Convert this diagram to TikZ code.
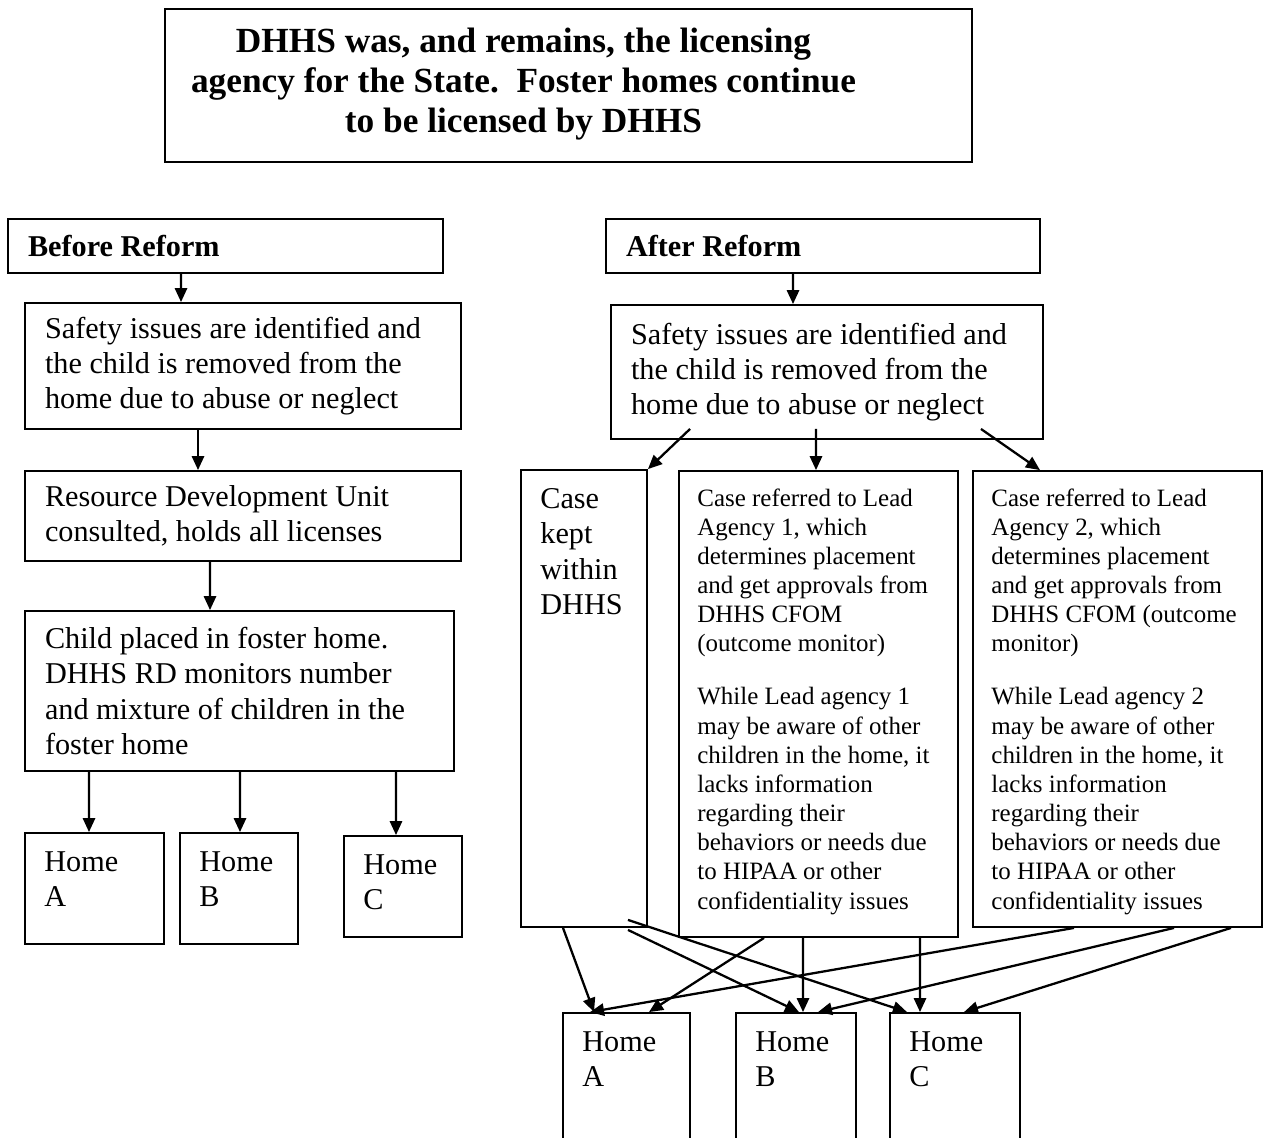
\documentclass[tikz,border=0pt]{standalone}
\usepackage{fontspec}
\setmainfont{Liberation Serif}
\usetikzlibrary{arrows.meta}

\begin{document}
\begin{tikzpicture}[x=0.02cm, y=-0.02cm,
    box/.style={draw, line width=1.1pt, inner sep=0pt},
    txtbox/.style={box, align=flush left, inner xsep=0.4cm, inner ysep=0pt},
    bodytxt/.style={font=\fontsize{17.2}{20.1}\selectfont},
    boldtxt/.style={font=\fontsize{17.2}{20.1}\selectfont\bfseries},
    leadtxt/.style={font=\fontsize{14.2}{16.6}\selectfont},
    arr/.style={-{Triangle[length=8pt, width=7pt]}, line width=1.3pt}]

      \useasboundingbox (0,0) rectangle (1264,1137);
      \clip (0,0) rectangle (1264,1137);

      % Title box
      \node[box, minimum width=16.14cm, minimum height=3.06cm] (title) at (568.5,85.5) {};
      \node[font=\fontsize{20.1}{22.7}\selectfont\bfseries, align=center] (titletxt) at (523.5,84)
      {DHHS was, and remains, the licensing\\agency for the State.\ \ Foster homes continue\\to be licensed by DHHS};

      % Before reform column
      \node[txtbox, boldtxt, text width=7.90cm, minimum height=1.08cm] (before) at (225.5,246) {Before Reform};
      \node[txtbox, bodytxt, text width=7.92cm, minimum height=2.52cm] (safeL) at (243,366)
      {Safety issues are identified and\\the child is removed from the\\home due to abuse or neglect};
      \node[txtbox, bodytxt, text width=7.92cm, minimum height=1.80cm] (rdu) at (243,516)
      {Resource Development Unit\\consulted, holds all licenses};
      \node[txtbox, bodytxt, text width=7.78cm, minimum height=3.20cm] (child) at (239.5,691)
      {Child placed in foster home.\\DHHS RD monitors number\\and mixture of children in the\\foster home};

      % After reform column
      \node[txtbox, boldtxt, text width=7.88cm, minimum height=1.08cm] (after) at (823,246) {After Reform};
      \node[txtbox, bodytxt, text width=7.84cm, minimum height=2.68cm] (safeR) at (827,372)
      {Safety issues are identified and\\the child is removed from the\\home due to abuse or neglect};

      \node[box, minimum width=2.52cm, minimum height=9.14cm] (caseBox) at (584,698.5) {};
      \node[bodytxt, anchor=north west, align=left, inner sep=0pt] (casetxt)
      at ([xshift=0.4cm, yshift=-0.38cm]caseBox.north west) {Case\\kept\\within\\DHHS};

      \node[box, minimum width=5.58cm, minimum height=9.32cm] (lead1) at (818.5,704) {};
      \node[leadtxt, anchor=north west, align=left, inner sep=0pt] (lead1txt)
      at ([xshift=0.38cm, yshift=-0.36cm]lead1.north west)
      {Case referred to Lead\\Agency 1, which\\determines placement\\and get approvals from\\DHHS CFOM\\(outcome monitor)\\[13.6pt]
      While Lead agency 1\\may be aware of other\\children in the home, it\\lacks information\\regarding their\\behaviors or needs due\\to HIPAA or other\\confidentiality issues};

      \node[box, minimum width=5.78cm, minimum height=9.12cm] (lead2) at (1117.5,699) {};
      \node[leadtxt, anchor=north west, align=left, inner sep=0pt] (lead2txt)
      at ([xshift=0.38cm, yshift=-0.36cm]lead2.north west)
      {Case referred to Lead\\Agency 2, which\\determines placement\\and get approvals from\\DHHS CFOM (outcome\\monitor)\\[13.6pt]
      While Lead agency 2\\may be aware of other\\children in the home, it\\lacks information\\regarding their\\behaviors or needs due\\to HIPAA or other\\confidentiality issues};

      % Home boxes on both sides
      \foreach \name/\cx/\cy/\w/\h/\letter in {homeLA/94.5/888.5/2.78/2.22/A,
      homeLB/239/888.5/2.36/2.22/B, homeLC/403/886.5/2.36/2.02/C,
      homeRA/626.5/1083/2.54/2.80/A, homeRB/796/1083/2.40/2.80/B,
      homeRC/955/1083/2.60/2.80/C} {
        \node[box, minimum width=\w cm, minimum height=\h cm] (\name) at (\cx,\cy) {};
        \node[bodytxt, anchor=north west, align=left, inner sep=0pt]
        at ([xshift=0.4cm, yshift=-0.38cm]\name.north west) {Home\\\letter};
      }

      % Arrows, before reform
      \draw[arr] ([xshift=-0.89cm]before.south) -- ([xshift=-1.24cm]safeL.north);
      \draw[arr] ([xshift=-0.9cm]safeL.south) -- ([xshift=-0.9cm]rdu.north);
      \draw[arr] ([xshift=-0.66cm]rdu.south) -- ([xshift=-0.59cm]child.north);
      \foreach \home/\from/\to in {homeLA/-3.01/-0.11, homeLB/0.01/0.02, homeLC/3.13/-0.14}
        \draw[arr] ([xshift=\from cm]child.south) -- ([xshift=\to cm]\home.north);

      % Arrows, after reform
      \draw[arr] ([xshift=-0.6cm]after.south) -- ([xshift=-0.68cm]safeR.north);
      \draw[arr] ([xshift=-2.74cm, yshift=0.22cm]safeR.south) -- (caseBox.north east);
      \draw[arr] ([xshift=-0.22cm, yshift=0.22cm]safeR.south) -- ([xshift=-0.05cm]lead1.north);
      \draw[arr] ([xshift=3.08cm, yshift=0.22cm]safeR.south) -- ([xshift=-1.55cm]lead2.north);

      % Arrows down to the homes
      \foreach \src/\from/\home/\to in {caseBox/-0.42/homeRA/-0.65,
      lead1/-1.09/homeRA/0.45, lead1/-0.31/homeRB/0.14, lead1/2.03/homeRC/-0.70,
      lead2/-0.87/homeRA/-0.73, lead2/1.13/homeRB/0.44, lead2/2.27/homeRC/0.18}
        \draw[arr] ([xshift=\from cm]\src.south) -- ([xshift=\to cm]\home.north);
      \draw[arr] ([xshift=0.88cm, yshift=0.16cm]caseBox.south) -- ([xshift=-0.96cm]homeRC.north);
      \draw[arr] ([xshift=0.88cm, yshift=-0.04cm]caseBox.south) -- ([xshift=0.06cm]homeRB.north);
    \end{tikzpicture}
\end{document}
